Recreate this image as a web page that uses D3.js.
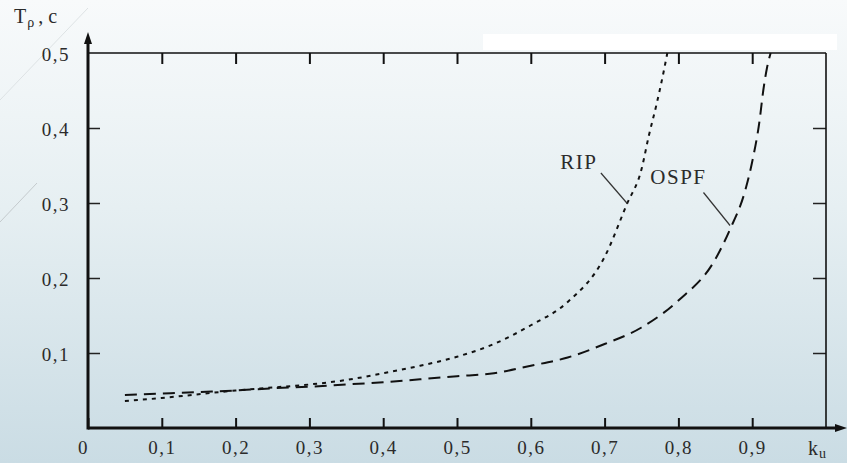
<!DOCTYPE html>
<html>
<head>
<meta charset="utf-8">
<script src="https://cdn.jsdelivr.net/npm/d3@7"></script>
<style>
  html, body { margin: 0; padding: 0; overflow: hidden; }
</style>
</head>
<body>
<svg id="chart"></svg>
<script>
const width = 847;
const height = 463;
const serif = '"Liberation Serif", "Times New Roman", "DejaVu Serif", serif';

// load factor k_u and convergence time T_p
const ripLoad = [0.05, 0.1, 0.15, 0.2, 0.25, 0.3, 0.35, 0.4, 0.45, 0.5, 0.55, 0.6, 0.65, 0.7, 0.73, 0.75, 0.76, 0.77, 0.78, 0.785];
const ripTime = [0.036, 0.040, 0.045, 0.050, 0.054, 0.058, 0.064, 0.073, 0.083, 0.095, 0.112, 0.137, 0.168, 0.228, 0.298, 0.345, 0.39, 0.43, 0.475, 0.5];
const ospfLoad = [0.05, 0.1, 0.15, 0.2, 0.25, 0.3, 0.35, 0.4, 0.45, 0.5, 0.55, 0.6, 0.65, 0.7, 0.75, 0.8, 0.85, 0.87, 0.89, 0.9, 0.91, 0.915, 0.92, 0.925];
const ospfTime = [0.044, 0.046, 0.048, 0.050, 0.053, 0.055, 0.058, 0.061, 0.065, 0.069, 0.073, 0.083, 0.094, 0.112, 0.134, 0.170, 0.225, 0.265, 0.315, 0.355, 0.41, 0.45, 0.48, 0.5];

const xTicks = [0, 0.1, 0.2, 0.3, 0.4, 0.5, 0.6, 0.7, 0.8, 0.9];
const xTickLabels = ['0', '0,1', '0,2', '0,3', '0,4', '0,5', '0,6', '0,7', '0,8', '0,9'];
const yTicks = [0.1, 0.2, 0.3, 0.4, 0.5];
const yTickLabels = ['0,1', '0,2', '0,3', '0,4', '0,5'];

// label name, label position and where its leader touches the curve (data units)
const labels = [
    { name: 'RIP', at: [0.64, 0.345], from: [0.695, 0.34], to: [0.731, 0.299] },
    { name: 'OSPF', at: [0.762, 0.326], from: [0.834, 0.314], to: [0.87, 0.27] }
];

const svg = d3.select('#chart').attr('width', width).attr('height', height);

const defs = svg.append('defs');
const grad = defs.append('linearGradient').attr('id', 'bg').attr('x1', 0).attr('y1', 0).attr('x2', 0).attr('y2', 1);
grad.append('stop').attr('offset', '0%').attr('stop-color', '#f8fafb');
grad.append('stop').attr('offset', '45%').attr('stop-color', '#e6eff2');
grad.append('stop').attr('offset', '100%').attr('stop-color', '#cadce4');
svg.append('rect').attr('width', width).attr('height', height).attr('fill', 'url(#bg)');

// slide leftovers: white strip and faint diagonal strokes
svg.append('rect').attr('x', 483).attr('y', 34).attr('width', 354).attr('height', 16).attr('fill', '#ffffff');
svg.append('line').attr('x1', 0).attr('y1', 100).attr('x2', 88).attr('y2', 8).attr('stroke', '#dde2e4').attr('stroke-width', 1);
svg.append('line').attr('x1', 0).attr('y1', 222).attr('x2', 37).attr('y2', 183).attr('stroke', '#c4cacd').attr('stroke-width', 1);

const x = d3.scaleLinear().domain([0, 1]).range([88, 826]);
const y = d3.scaleLinear().domain([0, 0.5]).range([428, 53]);

// bottom ticks + labels
const gx = svg.append('g').attr('transform', `translate(0,${y(0)})`)
    .call(d3.axisBottom(x).tickValues(xTicks).tickSize(-10).tickPadding(13)
        .tickFormat((d, i) => xTickLabels[i]));
gx.select('.domain').remove();
gx.selectAll('.tick line').attr('stroke', '#111').attr('stroke-width', 2);
gx.selectAll('.tick text').attr('font-family', serif).attr('font-size', 19).attr('letter-spacing', 1.5)
    .attr('fill', '#2b2b2b').attr('dx', (d) => d === 0 ? -5 : 0);

// top ticks
const gt = svg.append('g').attr('transform', `translate(0,${y(0.5)})`)
    .call(d3.axisTop(x).tickValues(xTicks.slice(1)).tickSize(-11).tickFormat(''));
gt.select('.domain').remove();
gt.selectAll('.tick line').attr('stroke', '#111').attr('stroke-width', 2);

// left ticks + labels
const gy = svg.append('g').attr('transform', `translate(${x(0)},0)`)
    .call(d3.axisLeft(y).tickValues(yTicks).tickSize(-12).tickPadding(18)
        .tickFormat((d, i) => yTickLabels[i]));
gy.select('.domain').remove();
gy.selectAll('.tick line').attr('stroke', '#222').attr('stroke-width', 1.5)
    .attr('display', (d) => d === 0.5 ? 'none' : null);
gy.selectAll('.tick text').attr('font-family', serif).attr('font-size', 19).attr('letter-spacing', 1.5)
    .attr('dy', '0.4em').attr('fill', '#2b2b2b');

// right ticks
const gr = svg.append('g').attr('transform', `translate(${x(1)},0)`)
    .call(d3.axisRight(y).tickValues(yTicks.slice(0, 4)).tickSize(-13).tickFormat(''));
gr.select('.domain').remove();
gr.selectAll('.tick line').attr('stroke', '#222').attr('stroke-width', 1.5);

// frame
svg.append('line').attr('x1', x(0)).attr('x2', x(1)).attr('y1', y(0.5)).attr('y2', y(0.5))
    .attr('stroke', '#111').attr('stroke-width', 1.6);
svg.append('line').attr('x1', x(1)).attr('x2', x(1)).attr('y1', y(0)).attr('y2', y(0.5))
    .attr('stroke', '#111').attr('stroke-width', 1.6);

// main axes with arrows
svg.append('line').attr('x1', x(0)).attr('x2', 840).attr('y1', y(0)).attr('y2', y(0))
    .attr('stroke', '#111').attr('stroke-width', 3);
svg.append('line').attr('x1', x(0)).attr('x2', x(0)).attr('y1', y(0) + 1.5).attr('y2', 40)
    .attr('stroke', '#111').attr('stroke-width', 3);
svg.append('path').attr('d', `M${x(0)},32 L${x(0) - 4},44 L${x(0) + 4},44 Z`).attr('fill', '#111');
svg.append('path').attr('d', `M847,${y(0)} L835,${y(0) - 4} L835,${y(0) + 4} Z`).attr('fill', '#111');

// curves
const line = d3.line().x((d) => x(d[0])).y((d) => y(d[1])).curve(d3.curveMonotoneX);
svg.append('path').datum(d3.zip(ripLoad, ripTime)).attr('d', line)
    .attr('fill', 'none').attr('stroke', '#111').attr('stroke-width', 2).attr('stroke-dasharray', '4,5');
svg.append('path').datum(d3.zip(ospfLoad, ospfTime)).attr('d', line)
    .attr('fill', 'none').attr('stroke', '#111').attr('stroke-width', 2).attr('stroke-dasharray', '12,7');

// series labels with leaders
labels.forEach((l) => {
    svg.append('text').attr('x', x(l.at[0])).attr('y', y(l.at[1]))
        .attr('font-family', serif).attr('font-size', 21).attr('letter-spacing', 1.5)
        .attr('fill', '#2b2b2b').text(l.name);
    svg.append('line').attr('x1', x(l.from[0])).attr('y1', y(l.from[1]))
        .attr('x2', x(l.to[0])).attr('y2', y(l.to[1]))
        .attr('stroke', '#333').attr('stroke-width', 1.2);
});

// axis titles
const yTitle = svg.append('text').attr('x', 14).attr('y', 23).attr('font-family', serif)
    .attr('font-size', 20).attr('fill', '#2b2b2b');
yTitle.append('tspan').text('T');
yTitle.append('tspan').attr('font-size', 14).attr('dy', 4).attr('dx', 1).text('ρ');
yTitle.append('tspan').attr('dy', -4).attr('dx', 4).text(', c');

const xTitle = svg.append('text').attr('x', 808).attr('y', 455).attr('font-family', serif)
    .attr('font-size', 20).attr('fill', '#2b2b2b');
xTitle.append('tspan').text('k');
xTitle.append('tspan').attr('font-size', 14).attr('dy', 3).attr('dx', 1).text('u');
</script>
</body>
</html>
